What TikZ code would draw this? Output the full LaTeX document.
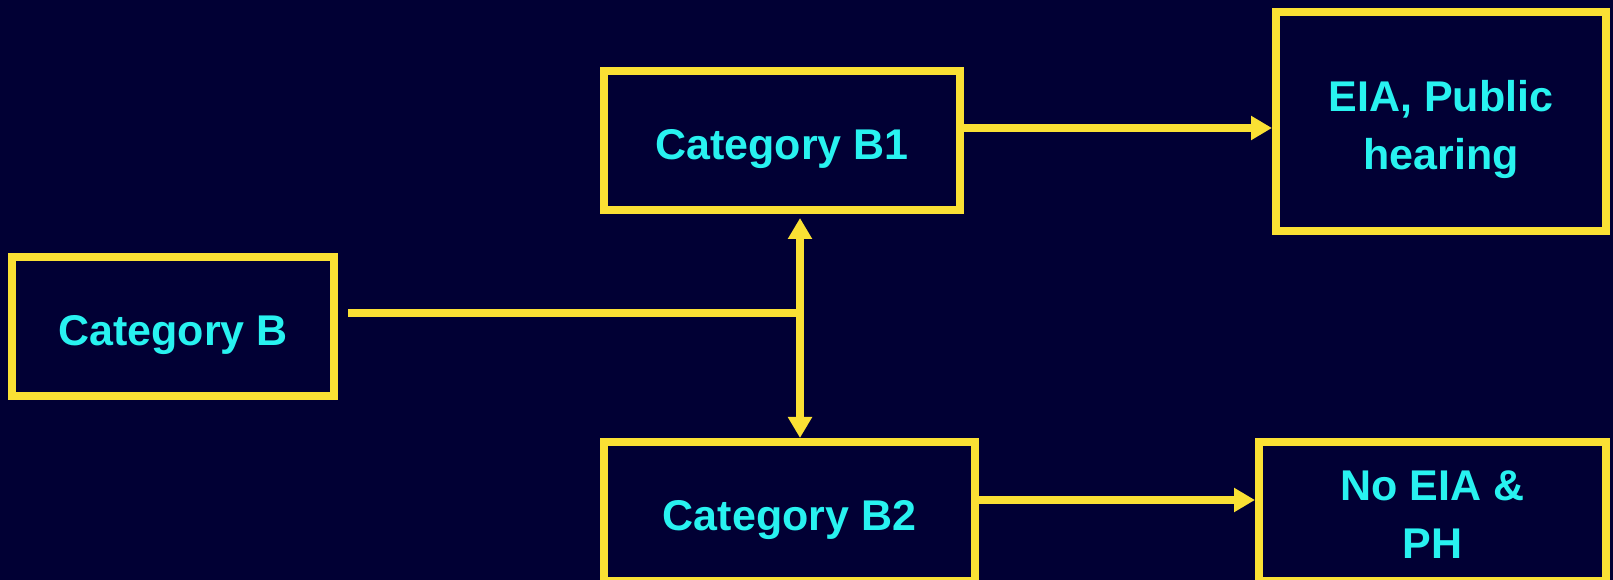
\documentclass[tikz,border=0pt]{standalone}
\usepackage{fontspec}
\setmainfont{Liberation Sans}
\usepackage{tikz}
\usetikzlibrary{arrows.meta,calc}

\definecolor{bgnavy}{RGB}{1,0,52}
\definecolor{boxyellow}{RGB}{250,224,52}
\definecolor{textcyan}{RGB}{40,242,240}

\begin{document}
\begin{tikzpicture}[x=1pt,y=1pt,
    catbox/.style={draw=boxyellow, line width=8pt, rectangle, align=center,
        text=textcyan, font=\fontsize{43}{58}\selectfont\bfseries,
        minimum height=139pt},
    oneline/.style={text height=38pt, text depth=0pt},
    flow/.style={draw=boxyellow, line width=8pt,
        -{Triangle[length=21pt,width=23pt]}}]
    \fill[bgnavy] (0,0) rectangle (1613,580);
    \useasboundingbox (0,0) rectangle (1613,580);

    \node[catbox, oneline, minimum width=322pt] (catB) at (173,253.5) {Category B};
    \node[catbox, oneline, minimum width=356pt] (catB1) at (782,439.5) {Category B1};
    \node[catbox, oneline, minimum width=371pt] (catB2) at (789.5,68.5) {Category B2};
    \node[catbox, minimum width=330pt, minimum height=219pt] (eia) at (1441,458.5) {\rule{0pt}{47pt}EIA, Public\\hearing};
    \node[catbox, minimum width=347pt] (noeia) at (1432.5,68.5) {\rule{0pt}{37pt}No EIA \&\\PH};

    \coordinate (split) at (800,267);

    \draw[flow, -] ($(catB.east |- split)+(10pt,0)$) -- (split);
    \draw[flow, {Triangle[length=21pt,width=23pt]}-{Triangle[length=21pt,width=23pt]}, shorten <=4pt]
        (catB1.south -| split) -- (catB2.north -| split);
    \draw[flow] ([yshift=12.5pt]catB1.east) -- ([yshift=12.5pt]catB1.east -| eia.west);
    \draw[flow] ([yshift=11.5pt]catB2.east) -- ([yshift=11.5pt]catB2.east -| noeia.west);
\end{tikzpicture}
\end{document}
